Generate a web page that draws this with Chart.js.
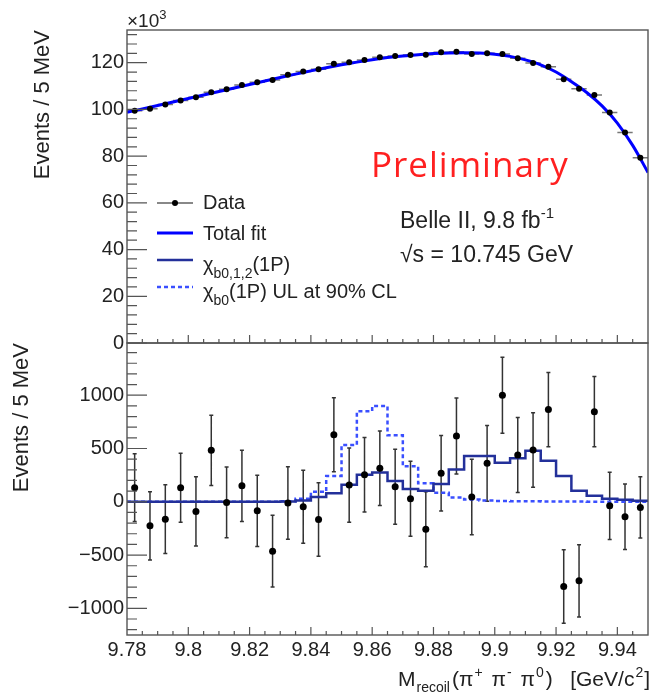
<!DOCTYPE html>
<html>
<head>
<meta charset="utf-8">
<script src="https://cdn.jsdelivr.net/npm/chart.js@4.4.1/dist/chart.umd.min.js"></script>
<style>
  body { margin: 0; background: #fff; }
  #wrap { position: relative; width: 652px; height: 693px; }
  #wrap canvas { position: absolute; left: 0; top: 0; }
</style>
</head>
<body>
<div id="wrap">
  <canvas id="top-chart" width="652" height="693"></canvas>
  <canvas id="bottom-chart" width="652" height="693"></canvas>
</div>
<script>
// 5 MeV bins from 9.78 to 9.95 GeV
const binEdges = [9.78, 9.785, 9.79, 9.795, 9.8, 9.805, 9.81, 9.815, 9.82, 9.825, 9.83, 9.835,
  9.84, 9.845, 9.85, 9.855, 9.86, 9.865, 9.87, 9.875, 9.88, 9.885, 9.89, 9.895, 9.9, 9.905,
  9.91, 9.915, 9.92, 9.925, 9.93, 9.935, 9.94, 9.945, 9.95];
const binCenters = [9.7825, 9.7875, 9.7925, 9.7975, 9.8025, 9.8075, 9.8125, 9.8175, 9.8225,
  9.8275, 9.8325, 9.8375, 9.8425, 9.8475, 9.8525, 9.8575, 9.8625, 9.8675, 9.8725, 9.8775,
  9.8825, 9.8875, 9.8925, 9.8975, 9.9025, 9.9075, 9.9125, 9.9175, 9.9225, 9.9275, 9.9325,
  9.9375, 9.9425, 9.9475];

// top panel, events x10^3
const dataCounts = [99.4, 100.3, 102.1, 103.8, 105.2, 107.3, 108.6, 110.5, 111.6, 112.6, 114.8,
  116.2, 117.2, 119.5, 120.2, 121.2, 122.3, 122.9, 123.3, 123.4, 124.5, 124.7, 123.7, 124.0,
  123.7, 121.9, 119.9, 118.3, 112.9, 108.9, 106.2, 98.7, 90.1, 79.3];
const dataErrors = [0.32, 0.32, 0.32, 0.32, 0.32, 0.33, 0.33, 0.33, 0.33, 0.34, 0.34, 0.34, 0.34,
  0.35, 0.35, 0.35, 0.35, 0.35, 0.35, 0.35, 0.35, 0.35, 0.35, 0.35, 0.35, 0.35, 0.35, 0.34, 0.34,
  0.33, 0.33, 0.31, 0.30, 0.28];
// total fit, read at the bin edges
const totalFit = [98.8, 100.2, 101.65, 103.15, 104.65, 106.15, 107.65, 109.15, 110.65, 112.15,
  113.65, 115.1, 116.5, 117.85, 119.1, 120.25, 121.3, 122.2, 122.9, 123.45, 123.9, 124.2, 124.3,
  124.15, 123.65, 122.7, 121.2, 119.1, 116.0, 111.9, 107.25, 101.5, 94.15, 84.6, 73.0];

// bottom panel, background subtracted
const residuals = [132, -226, -163, 132, -90, 483, -6, 150, -85, -463, -12, -47, -166, 630, 157,
  254, 314, 141, 28, -257, 267, 617, 44, 361, 1000, 439, 486, 865, -795, -742, 846, -38, -141, -53];
const residualErrors = [318, 320, 322, 324, 326, 330, 332, 334, 335, 337, 340, 342, 344, 347, 348,
  349, 350, 351, 352, 352, 354, 356, 354, 355, 357, 352, 350, 348, 345, 340, 329, 316, 307, 287];
const chiAll = [0, 0, 0, 0, 0, 0, 0, 0, 0, 0, 2, 12, 45, 79, 160, 254, 276, 194, 120, 104, 166,
  304, 430, 430, 367, 408, 479, 385, 242, 103, 56, 28, 19, 10];
const chi0UL = [0, 0, 0, 0, 0, 0, 0, 0, 0, 0, 5, 28, 94, 242, 533, 850, 900, 624, 333, 173, 85,
  41, 22, 12, 8, 5, 4, 3, 2, 2, 1, 1, 1, 1];

const xTicks = [9.78, 9.8, 9.82, 9.84, 9.86, 9.88, 9.9, 9.92, 9.94];
const yTopTicks = [0, 20, 40, 60, 80, 100, 120];
const yBottomTicks = [-1000, -500, 0, 500, 1000];

const FONT = '"Liberation Sans", Arial, sans-serif';
const INK = '#222';
Chart.defaults.font.family = FONT;
Chart.defaults.color = INK;

function drawRich(ctx, x, y, parts, align) {
  let w = 0;
  for (const p of parts) {
    ctx.font = p.size + 'px ' + FONT;
    w += ctx.measureText(p.t).width + (p.gap || 0);
  }
  let cx = align === 'right' ? x - w : x;
  for (const p of parts) {
    ctx.font = p.size + 'px ' + FONT;
    ctx.fillText(p.t, cx, y + (p.dy || 0));
    cx += ctx.measureText(p.t).width + (p.gap || 0);
  }
}

// ROOT style frame with ticks inside
const frameTicks = {
  id: 'frameTicks',
  afterDraw(chart, args, o) {
    const {ctx, chartArea: a, scales: {x, y}} = chart;
    ctx.save();
    ctx.strokeStyle = '#555';
    ctx.lineWidth = 1.2;
    ctx.beginPath();
    const n = Math.round((x.max - x.min) / o.xMinor);
    for (let i = 1; i < n; i++) {
      const px = x.getPixelForValue(x.min + i * o.xMinor);
      const len = i % o.xPer === 0 ? 8 : 4;
      ctx.moveTo(px, a.bottom);
      ctx.lineTo(px, a.bottom - len);
    }
    for (let k = Math.ceil(y.min / o.yMinor); k * o.yMinor <= y.max; k++) {
      const py = y.getPixelForValue(k * o.yMinor);
      const len = k % o.yPer === 0 ? 20 : 10;
      ctx.moveTo(a.left, py);
      ctx.lineTo(a.left + len, py);
    }
    ctx.stroke();
    ctx.lineWidth = 1.4;
    ctx.strokeRect(a.left, a.top, a.width, a.height);
    ctx.restore();
  }
};

// error bars, drawn under the markers
const errorBars = {
  id: 'errorBars',
  beforeDatasetsDraw(chart, args, o) {
    const {ctx, scales: {x, y}} = chart;
    ctx.save();
    ctx.strokeStyle = o.color;
    ctx.lineWidth = 1.5;
    ctx.beginPath();
    o.values.forEach((v, i) => {
      const px = x.getPixelForValue(o.xs[i]);
      const lo = y.getPixelForValue(v - o.errors[i]);
      const hi = y.getPixelForValue(v + o.errors[i]);
      ctx.moveTo(px, lo); ctx.lineTo(px, hi);
      if (o.caps) {
        ctx.moveTo(px - 2, lo); ctx.lineTo(px + 2, lo);
        ctx.moveTo(px - 2, hi); ctx.lineTo(px + 2, hi);
      }
      if (o.horizontal) {
        const py = y.getPixelForValue(v);
        ctx.moveTo(x.getPixelForValue(binEdges[i]), py);
        ctx.lineTo(x.getPixelForValue(binEdges[i + 1]), py);
      }
    });
    ctx.stroke();
    ctx.restore();
  }
};

const topLabels = {
  id: 'topLabels',
  afterDraw(chart) {
    const ctx = chart.ctx;
    ctx.save();
    ctx.fillStyle = INK;
    ctx.textBaseline = 'alphabetic';
    drawRich(ctx, 127, 27, [{t: '\u00d710', size: 19}, {t: '3', size: 13, dy: -8}]);

    ctx.font = '35px "Open Sans", sans-serif';
    ctx.fillStyle = '#ff2020';
    ctx.letterSpacing = '1px';
    ctx.fillText('Preliminary', 371, 177);
    ctx.letterSpacing = '0px';

    ctx.fillStyle = INK;
    drawRich(ctx, 400, 228, [{t: 'Belle II, 9.8 fb', size: 23}, {t: '-1', size: 15, dy: -10}]);
    drawRich(ctx, 400, 262, [{t: '\u221as = 10.745 GeV', size: 23}]);

    // legend
    ctx.lineWidth = 2;
    ctx.strokeStyle = '#888';
    ctx.beginPath(); ctx.moveTo(157, 203); ctx.lineTo(193, 203); ctx.stroke();
    ctx.fillStyle = '#000';
    ctx.beginPath(); ctx.arc(175, 203, 3, 0, Math.PI * 2); ctx.fill();
    ctx.lineWidth = 3;
    ctx.strokeStyle = '#0000ff';
    ctx.beginPath(); ctx.moveTo(157, 233); ctx.lineTo(193, 233); ctx.stroke();
    ctx.lineWidth = 2.5;
    ctx.strokeStyle = '#23309a';
    ctx.beginPath(); ctx.moveTo(157, 260); ctx.lineTo(193, 260); ctx.stroke();
    ctx.strokeStyle = '#3a4fff';
    ctx.setLineDash([4, 3]);
    ctx.beginPath(); ctx.moveTo(157, 287); ctx.lineTo(193, 287); ctx.stroke();
    ctx.setLineDash([]);

    ctx.fillStyle = INK;
    drawRich(ctx, 203, 209, [{t: 'Data', size: 20}]);
    drawRich(ctx, 203, 240, [{t: 'Total fit', size: 20}]);
    drawRich(ctx, 203, 271, [{t: '\u03c7', size: 20}, {t: 'b0,1,2', size: 14, dy: 7}, {t: '(1P)', size: 20}]);
    drawRich(ctx, 203, 298, [{t: '\u03c7', size: 20}, {t: 'b0', size: 14, dy: 7}, {t: '(1P) UL at 90% CL', size: 20}]);
    ctx.restore();
  }
};

const bottomLabels = {
  id: 'bottomLabels',
  afterDraw(chart) {
    const ctx = chart.ctx;
    ctx.save();
    ctx.fillStyle = INK;
    drawRich(ctx, 650, 686, [
      {t: 'M', size: 21, gap: 1}, {t: 'recoil', size: 14, dy: 6, gap: 2},
      {t: '(\u03c0', size: 21, gap: 1}, {t: '+', size: 14, dy: -9, gap: 3},
      {t: ' \u03c0', size: 21, gap: 1}, {t: '-', size: 14, dy: -9, gap: 3},
      {t: ' \u03c0', size: 21, gap: 1}, {t: '0', size: 14, dy: -9, gap: 2},
      {t: ')   [GeV/c', size: 21, gap: 1}, {t: '2', size: 14, dy: -9, gap: 1},
      {t: ']', size: 21}
    ], 'right');
    ctx.restore();
  }
};

function yAxis(min, max, ticks, titlePad, fmt) {
  return {
    min: min, max: max,
    afterFit(s) { s.width = 127; },
    afterBuildTicks(s) { s.ticks = ticks.map(v => ({value: v})); },
    grid: {display: false, drawTicks: false},
    border: {display: false},
    ticks: {font: {size: 20}, color: INK, padding: 3, callback: fmt},
    title: {display: true, text: 'Events / 5 MeV', align: 'end', color: INK,
      font: {size: 22}, padding: {top: titlePad, bottom: 0}}
  };
}

const stepPoints = vals => binEdges.map((x, i) => ({x: x, y: vals[Math.min(i, vals.length - 1)]}));

new Chart(document.getElementById('top-chart'), {
  type: 'scatter',
  data: {
    datasets: [
      {label: 'Data', data: binCenters.map((x, i) => ({x: x, y: dataCounts[i]})),
        pointRadius: 3, pointBackgroundColor: '#000', pointBorderWidth: 0},
      {label: 'Total fit', data: binEdges.map((x, i) => ({x: x, y: totalFit[i]})),
        showLine: true, borderColor: '#0000ff', borderWidth: 3, pointRadius: 0, tension: 0.35}
    ]
  },
  options: {
    responsive: false, animation: false,
    layout: {padding: {top: 30, right: 2, bottom: 350, left: 0}},
    plugins: {
      legend: {display: false}, tooltip: {enabled: false},
      frameTicks: {xMinor: 0.005, xPer: 4, yMinor: 4, yPer: 5},
      errorBars: {xs: binCenters, values: dataCounts, errors: dataErrors, color: '#777', horizontal: true}
    },
    scales: {
      x: {type: 'linear', min: 9.78, max: 9.95, display: false},
      y: yAxis(0, 134, yTopTicks, 30, v => String(v))
    }
  },
  plugins: [frameTicks, errorBars, topLabels]
});

new Chart(document.getElementById('bottom-chart'), {
  type: 'scatter',
  data: {
    datasets: [
      {label: 'Data', data: binCenters.map((x, i) => ({x: x, y: residuals[i]})),
        pointRadius: 3.5, pointBackgroundColor: '#000', pointBorderWidth: 0},
      {label: 'chi_b0,1,2(1P)', data: stepPoints(chiAll), showLine: true, stepped: 'before',
        borderColor: '#23309a', borderWidth: 2.5, pointRadius: 0},
      {label: 'chi_b0(1P) UL', data: stepPoints(chi0UL), showLine: true, stepped: 'before',
        borderColor: '#3a4fff', borderWidth: 2.5, borderDash: [4, 3], pointRadius: 0}
    ]
  },
  options: {
    responsive: false, animation: false,
    layout: {padding: {top: 343, right: 2, bottom: 0, left: 0}},
    plugins: {
      legend: {display: false}, tooltip: {enabled: false},
      frameTicks: {xMinor: 0.005, xPer: 4, yMinor: 100, yPer: 5},
      errorBars: {xs: binCenters, values: residuals, errors: residualErrors, color: '#333', caps: true}
    },
    scales: {
      x: {
        type: 'linear', min: 9.78, max: 9.95,
        afterFit(s) { s.height = 58; },
        afterBuildTicks(s) { s.ticks = xTicks.map(v => ({value: v})); },
        grid: {display: false, drawTicks: false},
        border: {display: false},
        ticks: {font: {size: 20}, color: INK, padding: 3, autoSkip: false, maxRotation: 0,
          callback: v => String(v)}
      },
      y: yAxis(-1250, 1490, yBottomTicks, 9, v => v < 0 ? '\u2212' + Math.abs(v) : String(v))
    }
  },
  plugins: [frameTicks, errorBars, bottomLabels]
});
</script>
</body>
</html>
